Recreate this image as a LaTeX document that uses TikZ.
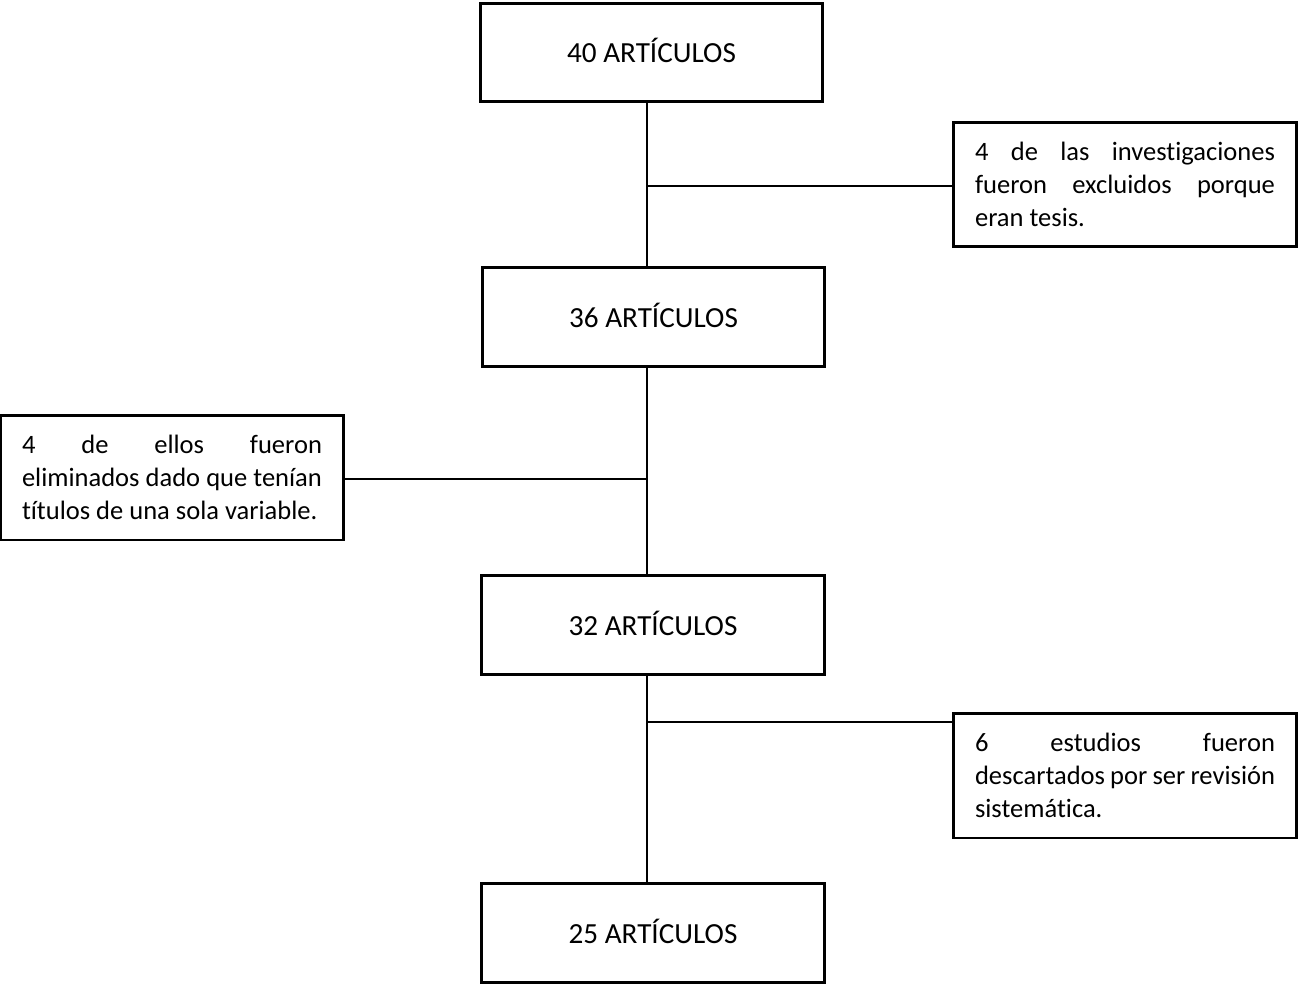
\documentclass[tikz,border=0pt]{standalone}
\usepackage{fontspec}
\setmainfont{Carlito}[Ligatures=NoCommon]
\usetikzlibrary{calc}
\hyphenpenalty=10000
\tolerance=9999
\tikzset{
  countbox/.style={
    draw, line width=1.7pt, minimum width=6.86cm, minimum height=1.98cm,
    inner sep=0pt, text depth=0.2em, font=\fontsize{16.6}{20}\selectfont
  },
  notebox/.style={
    draw, line width=1.7pt, text width=6cm, inner xsep=0.44cm,
    minimum height=2.5cm, align=justify,
    font=\fontsize{15.1}{18.8}\selectfont
  },
  link/.style={line width=0.6pt}
}

\begin{document}
\begin{tikzpicture}[x=0.02cm, y=-0.02cm]
    \useasboundingbox (0,0) rectangle (1298,984);
    % main column
    \node[countbox] (a40) at (651.5,52.5) {40 ARTÍCULOS};
    \node[countbox] (a36) at (653.5,317) {36 ARTÍCULOS};
    \node[countbox] (a32) at (653,625) {32 ARTÍCULOS};
    \node[countbox] (a25) at (653,933) {25 ARTÍCULOS};
    % exclusions
    \node[notebox] (tesis) at (1125,184.5)
      {4 de las investigaciones\linebreak fueron excluidos porque\linebreak eran tesis.};
    \node[notebox] (titulos) at (172,477.5)
      {4 de ellos fueron\linebreak eliminados dado que tenían\linebreak títulos de una sola variable.};
    \node[notebox] (revision) at (1125,775.5)
      {6 estudios fueron\linebreak descartados por ser revisión\linebreak sistemática.};
    \coordinate (spine) at (647,0);
    \coordinate (j1) at (647,186);
    \coordinate (j2) at (647,479);
    \coordinate (j3) at (647,722);
    \draw[link] (a40.south -| spine) -- (a36.north -| spine);
    \draw[link] (a36.south -| spine) -- (a32.north -| spine);
    \draw[link] (a32.south -| spine) -- (a25.north -| spine);
    \draw[link] (j1) -- (j1 -| tesis.west);
    \draw[link] (j2) -- (j2 -| titulos.east);
    \draw[link] (j3) -- (j3 -| revision.west);
\end{tikzpicture}
\end{document}
